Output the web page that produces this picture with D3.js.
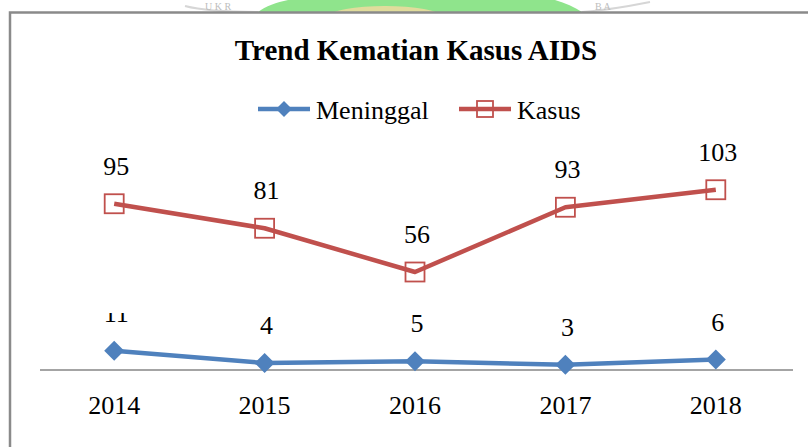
<!DOCTYPE html>
<html lang="en">
<head>
    <meta charset="UTF-8">
    <title>Trend Kematian Kasus AIDS</title>
    <script src="https://d3js.org/d3.v7.min.js"></script>
    <style>
        body { margin: 0; background: #fff; }
        text { font-family: 'Liberation Serif', 'Times New Roman', serif; fill: #000; }
    </style>
</head>
<body>
<script>

    const width  = 808;
    const height = 447;

    const years     = ['2014', '2015', '2016', '2017', '2018'];
    const meninggal = [11, 4, 5, 3, 6];
    const kasus     = [95, 81, 56, 93, 103];

    const blue = '#4F81BD';
    const red  = '#C0504D';

    const series = [
        {name: 'Meninggal', values: meninggal, color: blue, marker: 'diamond'},
        {name: 'Kasus',     values: kasus,     color: red,  marker: 'square'}
    ];

    const svg = d3.select('body')
            .append('svg')
            .attr('width', width)
            .attr('height', height);

    // faint watermark peeking above the chart frame
    const wm = svg.append('g');
    wm.append('path')
            .attr('d', 'M258,12 C268,4 285,0 300,-2 L545,-2 C560,0 572,6 582,12 Z')
            .style('fill', '#8fe48c');
    wm.append('ellipse')
            .attr('cx', 385).attr('cy', 16).attr('rx', 55).attr('ry', 10)
            .style('fill', '#f5d9a0').style('opacity', .8);
    wm.append('path')
            .attr('d', 'M185,6 C200,10 230,12 258,12 M582,12 C610,10 630,6 650,2')
            .style('fill', 'none').style('stroke', '#d6d6d6').style('stroke-width', 2);
    wm.append('text').text('U K R')
            .attr('x', 205).attr('y', 10)
            .style('font-size', '10px').style('fill', '#bdbdbd');
    wm.append('text').text('B A')
            .attr('x', 595).attr('y', 10)
            .style('font-size', '10px').style('fill', '#bdbdbd');

    // chart frame
    svg.append('rect')
            .attr('x', 10).attr('y', 12.5)
            .attr('width', width).attr('height', height)
            .style('fill', '#fff')
            .style('stroke', '#8a8a8a')
            .style('stroke-width', 2.5);

    const x = d3.scaleBand()
            .domain(years)
            .range([39, 791]);

    const y = d3.scaleLinear()
            .domain([0, 120])
            .range([370, 160]);

    const cx = i => x(years[i]) + x.bandwidth() / 2;

    // title
    svg.append('text')
            .text('Trend Kematian Kasus AIDS')
            .attr('x', 416)
            .attr('y', 60)
            .attr('text-anchor', 'middle')
            .style('font-size', '29px')
            .style('font-weight', 'bold');

    // x axis
    const xAxis = d3.axisBottom(x).tickSize(0).tickPadding(26);
    const ax = svg.append('g')
            .attr('transform', 'translate(0,370)')
            .call(xAxis);
    ax.select('.domain')
            .attr('d', 'M40,0H793')
            .style('stroke', '#868686')
            .style('stroke-width', 1.5);
    ax.selectAll('.tick text')
            .style('font-size', '26px')
            .style('font-family', "'Liberation Serif', serif")
            .attr('fill', '#000');

    const line = d3.line()
            .x((d, i) => cx(i))
            .y(d => y(d));

    function marker(g, type, size, color) {
        if (type === 'diamond') {
            g.append('path')
                    .attr('d', d3.symbol().type(d3.symbolSquare).size(size * size / 2)())
                    .attr('transform', 'rotate(45)')
                    .style('fill', color);
        } else {
            g.append('rect')
                    .attr('x', -size / 2).attr('y', -size / 2)
                    .attr('width', size).attr('height', size)
                    .style('fill', 'none')
                    .style('stroke', color)
                    .style('stroke-width', 1.8);
        }
    }

    // clip that hides the top of the first small label, like the original
    svg.append('clipPath').attr('id', 'lblclip')
            .append('rect').attr('x', 0).attr('y', 313).attr('width', width).attr('height', 200);

    series.forEach(s => {
        svg.append('path')
                .datum(s.values)
                .attr('d', line)
                .style('fill', 'none')
                .style('stroke', s.color)
                .style('stroke-width', 4.5)
                .style('stroke-linejoin', 'round');

        s.values.forEach((v, i) => {
            const g = svg.append('g')
                    .attr('transform', 'translate(' + [cx(i), y(v)] + ')');
            marker(g, s.marker, s.marker === 'diamond' ? 20 : 19, s.color);
        });

        svg.append('g')
                .attr('clip-path', s.name === 'Meninggal' ? 'url(#lblclip)' : null)
                .selectAll('text')
                .data(s.values)
                .enter()
                .append('text')
                .text(d => d)
                .attr('x', (d, i) => cx(i) + 2)
                .attr('y', d => y(d) - 29)
                .attr('text-anchor', 'middle')
                .style('font-size', '26px');
    });

    // legend
    const legend = [
        {name: 'Meninggal', color: blue, marker: 'diamond', x0: 258},
        {name: 'Kasus',     color: red,  marker: 'square',  x0: 459}
    ];
    legend.forEach(l => {
        const g = svg.append('g').attr('transform', 'translate(' + [l.x0, 109] + ')');
        g.append('line')
                .attr('x1', 0).attr('x2', 52)
                .style('stroke', l.color)
                .style('stroke-width', 4.5);
        const m = g.append('g').attr('transform', 'translate(26,0)');
        marker(m, l.marker, 16, l.color);
        g.append('text')
                .text(l.name)
                .attr('x', 58)
                .attr('y', 10)
                .style('font-size', '26px');
    });

</script>
</body>
</html>
